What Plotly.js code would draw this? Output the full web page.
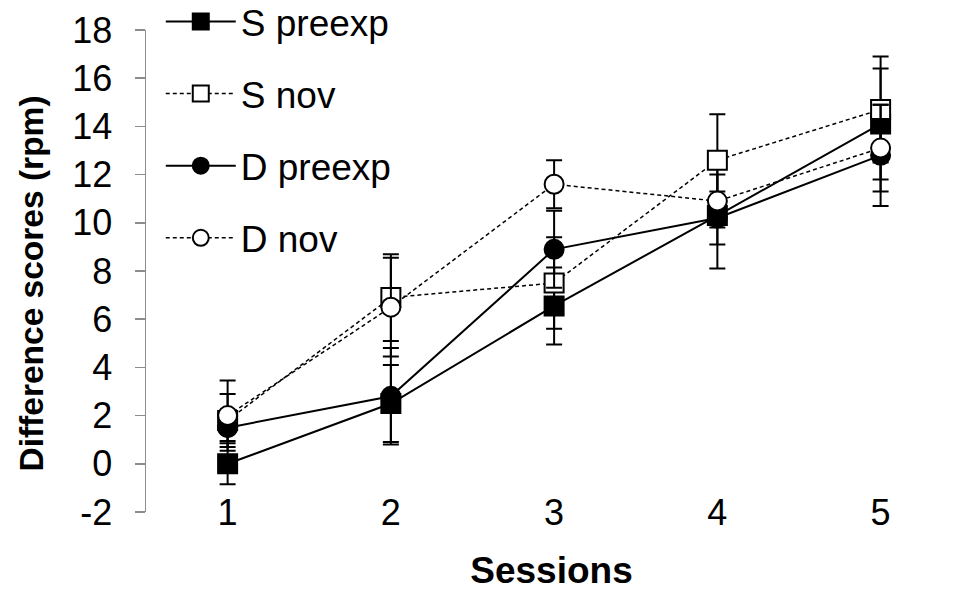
<!DOCTYPE html>
<html>
<head>
<meta charset="utf-8">
<script src="https://cdn.plot.ly/plotly-3.0.1.min.js"></script>
<style>html,body{margin:0;padding:0;background:#fff;}#chart{width:957px;height:591px;}</style>
</head>
<body>
<div id="chart"></div>
<script>
const sessions = [1, 2, 3, 4, 5];
const sessionLabels = ["1", "2", "3", "4", "5"];
const yTicks = [-2, 0, 2, 4, 6, 8, 10, 12, 14, 16, 18];
const yTickLabels = ["-2", "0", "2", "4", "6", "8", "10", "12", "14", "16", "18"];
const xTitle = "Sessions";
const yTitle = "Difference scores (rpm)";

const sPreexp = [0.0, 2.5, 6.55, 10.3, 14.1];
const sPreexpErr = [0.85, 1.6, 1.6, 2.2, 2.3];
const sNov = [1.8, 6.9, 7.5, 12.6, 14.7];
const sNovErr = [1.1, 1.8, 1.9, 1.9, 2.2];
const dPreexp = [1.5, 2.8, 8.9, 10.2, 12.8];
const dPreexpErr = [0.55, 2.0, 1.6, 1.1, 2.1];
const dNov = [2.0, 6.5, 11.6, 10.9, 13.1];
const dNovErr = [1.46, 2.05, 1.0, 1.1, 1.8];

const FONT = "Arial, 'Liberation Sans', sans-serif";
const boundaries = [0.5, 1.5, 2.5, 3.5, 4.5];

function mk(name, y, err, symbol, filled, dashed, group) {
  return {
    type: "scatter", mode: "lines+markers", name: name, x: sessions, y: y,
    legendgroup: group,
    line: {color: "#000", width: dashed ? 1.5 : 2, dash: dashed ? "4px,3px" : "solid"},
    marker: {symbol: symbol, size: 19, color: filled ? "#000" : "#fff",
             line: {color: "#000", width: 2}},
    error_y: {type: "data", array: err, visible: true, color: "#000", thickness: 2, width: 8}
  };
}

const traces = [
  mk("S preexp", sPreexp, sPreexpErr, "square", true, false, "a"),
  mk("S nov", sNov, sNovErr, "square", false, true, "b"),
  mk("D preexp", dPreexp, dPreexpErr, "circle", true, false, "c"),
  mk("D nov", dNov, dNovErr, "circle", false, true, "d")
];

const yMin = -2, yMax = 18;
const layout = {
  width: 957, height: 591,
  margin: {l: 146, r: 0, t: 30, b: 79, autoexpand: false},
  paper_bgcolor: "#fff", plot_bgcolor: "#fff",
  font: {family: FONT, size: 36, color: "#000"},
  showlegend: true,
  legend: {
    xref: "container", yref: "paper", x: 0.168, y: 1.081, xanchor: "left", yanchor: "top",
    font: {family: FONT, size: 37, color: "#000"},
    tracegroupgap: 21, bgcolor: "rgba(0,0,0,0)", itemsizing: "trace", itemwidth: 70
  },
  xaxis: {
    type: "linear", range: [0.5, 5.468], tickvals: sessions, ticktext: sessionLabels,
    ticks: "", showline: false, showgrid: false, zeroline: false, automargin: false,
    ticklabelstandoff: -24, tickfont: {family: FONT, size: 36, color: "#000"},
    title: {text: "<b>" + xTitle + "</b>", font: {family: FONT, size: 37, color: "#000"}, standoff: 31},
    fixedrange: true
  },
  xaxis2: {
    type: "linear", overlaying: "x", anchor: "free", position: (0 - yMin) / (yMax - yMin),
    range: [0.5, 5.468], tickvals: boundaries, showticklabels: false, automargin: false,
    ticks: "outside", ticklen: 11, tickwidth: 1.5, tickcolor: "#8c8c8c",
    showline: true, linecolor: "#8c8c8c", linewidth: 1.5, showgrid: false, zeroline: false
  },
  yaxis: {
    range: [yMin, yMax], tickvals: yTicks, ticktext: yTickLabels, ticks: "outside", ticklen: 10, tickwidth: 1.5,
    tickcolor: "#8c8c8c", showline: true, linecolor: "#8c8c8c", linewidth: 1.5, automargin: false,
    showgrid: false, zeroline: false, ticklabelstandoff: 15,
    tickfont: {family: FONT, size: 36, color: "#000"}
  },
  annotations: [{
    text: "<b>" + yTitle + "</b>", textangle: -90, showarrow: false,
    xref: "paper", yref: "paper", x: (32 - 146) / 811, y: 0.474, xanchor: "center", yanchor: "middle",
    font: {family: FONT, size: 33.5, color: "#000"}
  }]
};

Plotly.newPlot("chart", traces, layout, {displayModeBar: false, staticPlot: true});
</script>
</body>
</html>
